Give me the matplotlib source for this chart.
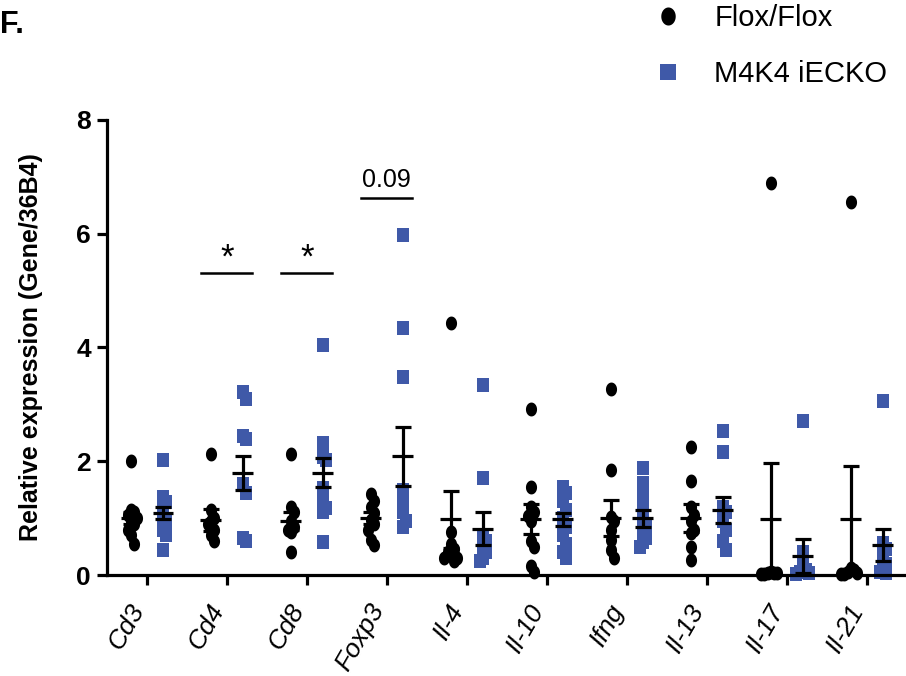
import numpy as np
import matplotlib
matplotlib.use('Agg')
import matplotlib.pyplot as plt
import matplotlib.transforms as mtransforms
from matplotlib.lines import Line2D
from matplotlib.path import Path

plt.rcParams['font.family'] = ['Liberation Sans', 'DejaVu Sans']

genes = ['Cd3', 'Cd4', 'Cd8', 'Foxp3', 'Il-4', 'Il-10', 'Ifng', 'Il-13', 'Il-17', 'Il-21']

# individual values
flox = [
    [2.0, 1.15, 1.1, 1.05, 1.0, 0.95, 0.9, 0.8, 0.7, 0.55],
    [2.12, 1.14, 1.0, 0.95, 0.9, 0.8, 0.7, 0.6],
    [2.12, 1.2, 1.1, 0.95, 0.85, 0.8, 0.75, 0.4],
    [1.43, 1.3, 1.2, 1.09, 0.97, 0.9, 0.8, 0.62, 0.52],
    [4.43, 0.75, 0.55, 0.45, 0.4, 0.35, 0.3, 0.3, 0.25],
    [2.92, 1.54, 1.2, 1.1, 1.03, 0.95, 0.6, 0.5, 0.15, 0.05],
    [3.27, 1.85, 1.02, 0.95, 0.79, 0.62, 0.44, 0.3],
    [2.25, 1.65, 1.2, 1.05, 0.95, 0.8, 0.74, 0.49, 0.26],
    [6.89, 0.05, 0.03, 0.02, 0.04, 0.01, 0.03],
    [6.56, 0.12, 0.08, 0.05, 0.03, 0.02, 0.02],
]
ko = [
    [2.02, 1.37, 1.28, 1.2, 1.02, 0.95, 0.79, 0.7, 0.44],
    [3.22, 3.1, 2.45, 2.4, 1.6, 1.45, 0.65, 0.6],
    [4.04, 2.32, 2.07, 2.02, 1.53, 1.28, 1.18, 1.1, 0.58],
    [5.97, 4.34, 3.48, 1.5, 1.3, 1.1, 0.95, 0.85],
    [3.34, 1.7, 0.7, 0.6, 0.5, 0.4, 0.3, 0.25],
    [1.55, 1.45, 1.3, 1.15, 1.0, 0.85, 0.7, 0.55, 0.4, 0.3],
    [1.88, 1.62, 1.44, 1.26, 1.02, 0.9, 0.79, 0.65, 0.58, 0.49],
    [2.53, 2.16, 1.2, 1.1, 0.95, 0.8, 0.6, 0.44],
    [2.71, 0.4, 0.15, 0.08, 0.05, 0.03, 0.02],
    [3.06, 0.56, 0.45, 0.35, 0.2, 0.1, 0.05, 0.03],
]

# mean and SEM as drawn
flox_mean = [1.0, 0.97, 0.95, 1.0, 0.98, 0.98, 1.0, 1.0, 0.98, 0.98]
flox_sem = [0.1, 0.19, 0.15, 0.1, 0.5, 0.26, 0.32, 0.24, 0.99, 0.94]
ko_mean = [1.09, 1.79, 1.8, 2.09, 0.81, 0.98, 1.0, 1.14, 0.33, 0.53]
ko_sem = [0.11, 0.3, 0.26, 0.52, 0.29, 0.11, 0.15, 0.23, 0.3, 0.28]

# significance annotations: (gene index, label, height)
sig = [(1, '*', 5.31), (2, '*', 5.31), (3, '0.09', 6.63)]

blue = '#3f59a8'

# slightly tall markers like the original
t = np.linspace(0, 2 * np.pi, 64)
oval = Path(np.c_[0.4 * np.cos(t), 0.5 * np.sin(t)], closed=True)
tall_sq = Path([(-0.4, -0.5), (0.4, -0.5), (0.4, 0.5), (-0.4, 0.5), (-0.4, -0.5)],
               closed=True)


def swarm(vals, step=0.04, dy=0.17):
    # simple beeswarm offsets so points spread sideways
    vals = np.asarray(vals)
    offs = np.zeros(len(vals))
    placed = []
    for i in np.argsort(vals)[::-1]:
        v = vals[i]
        for k in [0, 1, -1, 2, -2, 3, -3]:
            dx = k * step
            if all(abs(v - pv) >= dy or abs(dx - pd) >= step for pv, pd in placed):
                break
        offs[i] = dx
        placed.append((v, dx))
    return offs


fig = plt.figure(figsize=(9.06, 6.76), dpi=100)
ax = fig.add_axes([0.118, 0.1494, 0.882, 0.6731])

x = np.arange(len(genes))
for i in range(len(genes)):
    ax.plot(x[i] - 0.2 + swarm(flox[i]), flox[i], ls='none', marker=oval,
            color='black', ms=10, mew=0, clip_on=False, zorder=2)
    ax.plot(x[i] + 0.2 + swarm(ko[i]), ko[i], ls='none', marker=tall_sq,
            color=blue, ms=10.6, mew=0, clip_on=False, zorder=2)

xf = x - 0.2
xk = x + 0.2
for xs, m, s in [(xf, flox_mean, flox_sem), (xk, ko_mean, ko_sem)]:
    ax.errorbar(xs, m, yerr=s, fmt='none', ecolor='black', elinewidth=2.3,
                capsize=5.5, capthick=2.3, zorder=3)
    ax.hlines(m, xs - 0.13, xs + 0.13, color='black', lw=2.3, zorder=3)

for gi, lab, h in sig:
    ax.plot([gi - 0.32, gi + 0.32], [h, h], color='black', lw=1.8)
    if lab == '*':
        ax.text(gi, h + 0.1, lab, ha='center', va='baseline', fontsize=25)
    else:
        ax.text(gi, h + 0.2, lab, ha='center', va='baseline', fontsize=18)

ax.set_xlim(-0.5, 9.49)
ax.set_ylim(0, 8)
ax.set_yticks([0, 2, 4, 6, 8])
ax.set_xticks(x)
ax.set_xticklabels([])
# gene names drawn as texts so they can sit left of the ticks like the original
lab_tr = ax.get_xaxis_transform() + mtransforms.ScaledTranslation(
    -0.19, -0.25, fig.dpi_scale_trans)
for i, g in enumerate(genes):
    ax.text(x[i], 0, g, transform=lab_tr, style='italic', fontsize=19,
            rotation=60, ha='right', va='top', rotation_mode='anchor')
for lab in ax.get_yticklabels():
    lab.set_fontweight('bold')
    lab.set_fontsize(19)
ax.spines['top'].set_visible(False)
ax.spines['right'].set_visible(False)
ax.spines['left'].set_linewidth(2.3)
ax.spines['bottom'].set_linewidth(2.3)
ax.tick_params(axis='both', length=7.5, width=2.3, pad=4)
ax.set_ylabel('Relative expression (Gene/36B4)', fontsize=18,
              fontweight='bold', labelpad=24)

fig.text(0.0, 0.985, 'F.', fontsize=22, fontweight='bold', ha='left', va='top')

handles = [Line2D([], [], marker=oval, color='black', ls='none', ms=13, mew=0),
           Line2D([], [], marker='s', color=blue, ls='none', ms=11.5, mew=0)]
ax.legend(handles, ['Flox/Flox', 'M4K4 iECKO'], loc='upper left',
          bbox_to_anchor=(0.721, 0.994), bbox_transform=fig.transFigure,
          frameon=False, fontsize=21, handlelength=1.0, handletextpad=1.1,
          labelspacing=0.95, borderpad=0, borderaxespad=0)

fig.savefig('out.png', dpi=100)
